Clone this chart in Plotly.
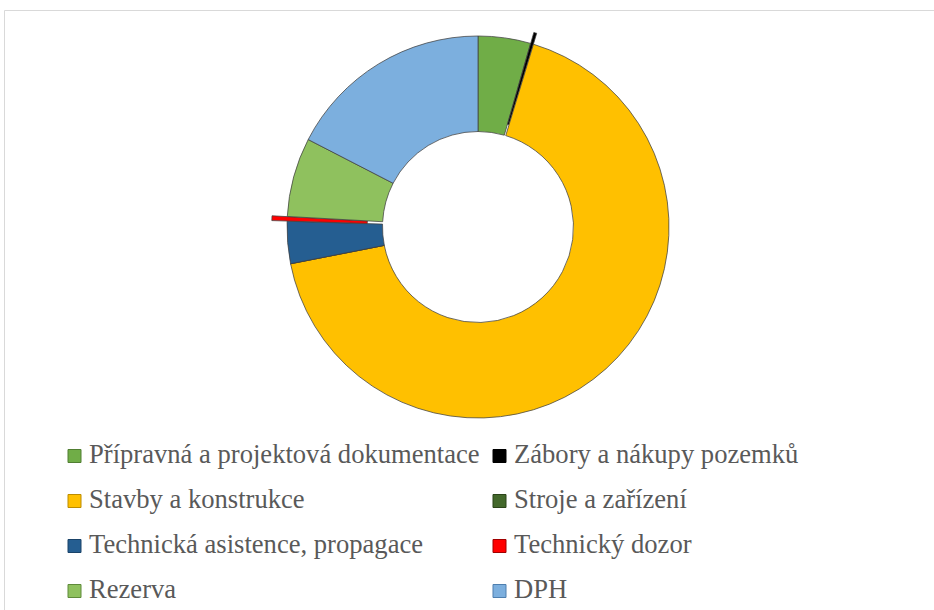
import plotly.graph_objects as go

# ---- data ----
labels = [
    "Přípravná a projektová dokumentace",
    "Zábory a nákupy pozemků",
    "Stavby a konstrukce",
    "Stroje a zařízení",
    "Technická asistence, propagace",
    "Technický dozor",
    "Rezerva",
    "DPH",
]
values = [4.44, 0.25, 67.23, 0.0, 3.56, 0.40, 6.69, 17.43]

# ---- styles ----
colors = ["#70AD47", "#000000", "#FFC000", "#43682B", "#255E91", "#FF0000", "#8FC15E", "#7CAFDE"]
swatch_lines = ["#507E32", "#000000", "#BC8C00", "#2B4419", "#1A4369", "#A00000", "#5F8A3A", "#4E7FAF"]
pulls = [0, 0.06, 0, 0, 0, 0.08, 0, 0]

W, H = 934, 610
cx, cy, r = 478, 227, 191
D = r * (1 + max(pulls))

fig = go.Figure()
fig.add_trace(go.Pie(
    labels=labels,
    values=values,
    hole=0.5,
    sort=False,
    direction="clockwise",
    rotation=0,
    pull=pulls,
    textinfo="none",
    marker=dict(colors=colors, line=dict(color="#404040", width=0.75)),
    domain=dict(x=[(cx - D) / W, (cx + D) / W], y=[(H - cy - D) / H, (H - cy + D) / H]),
    showlegend=False,
))

shapes = [dict(type="rect", xref="paper", yref="paper",
               x0=4.5 / W, x1=1.05, y0=-0.05, y1=1 - 10.5 / H,
               line=dict(color="#D9D9D9", width=1), fillcolor="rgba(0,0,0,0)", layer="below")]
annotations = []
col_x = [68, 493]
row_y = [456, 501, 546, 591]
for i, lab in enumerate(labels):
    c = i % 2
    rr = i // 2
    x0 = col_x[c]
    yc = row_y[rr]
    shapes.append(dict(type="rect", xref="paper", yref="paper",
                       x0=x0 / W, x1=(x0 + 13) / W,
                       y0=(H - yc - 6.5) / H, y1=(H - yc + 6.5) / H,
                       fillcolor=colors[i], line=dict(color=swatch_lines[i], width=1)))
    annotations.append(dict(xref="paper", yref="paper", x=(x0 + 19) / W, y=(H - yc + 2) / H,
                            xanchor="left", yanchor="middle", showarrow=False,
                            text=lab, font=dict(family="Liberation Serif", size=26.6, color="#595959")))

fig.update_layout(
    width=W, height=H,
    margin=dict(l=0, r=0, t=0, b=0),
    paper_bgcolor="white", plot_bgcolor="white",
    shapes=shapes, annotations=annotations,
)
fig.write_html("out.html", config={"displayModeBar": False},
               post_script="document.body.style.margin='0';document.body.style.overflow='hidden';")
